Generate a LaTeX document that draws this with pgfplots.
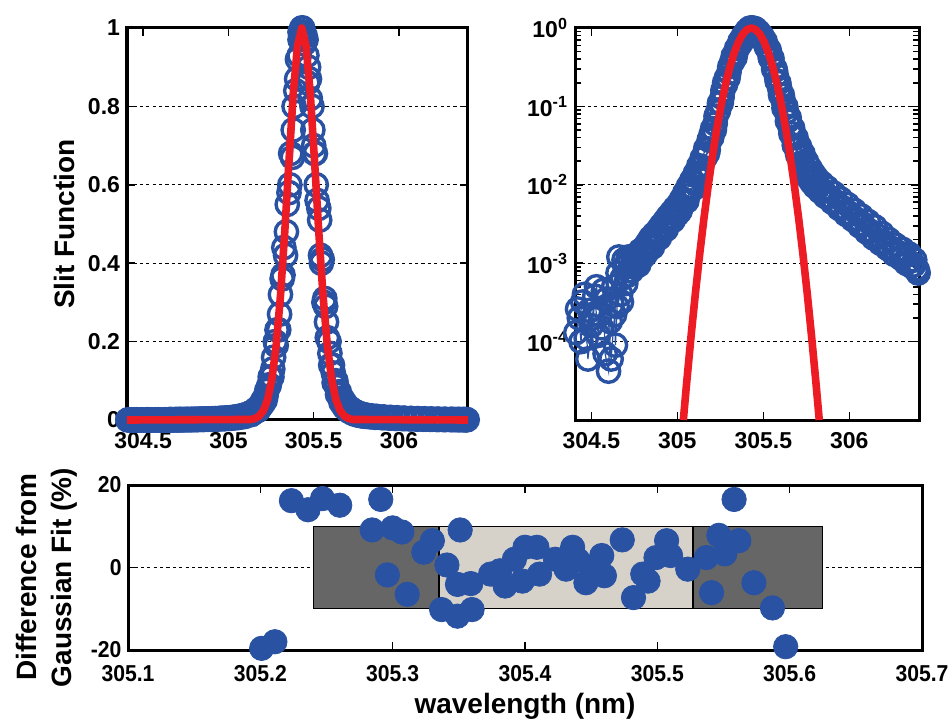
\documentclass[border=0pt]{standalone}
\usepackage{fontspec}
\setmainfont{Liberation Sans}
\usepackage{pgfplots}
\usepackage{pgfplotstable}
\pgfplotsset{compat=1.18}
\definecolor{dblue}{RGB}{42,82,163}
\definecolor{fred}{RGB}{237,28,36}
\definecolor{dgray}{RGB}{102,102,102}
\definecolor{lgray}{RGB}{214,210,202}

\pgfplotstableread{
x y
304.41 1.3e-4
304.43 2.0e-4
304.45 3.2e-4
304.47 1.1e-4
304.49 2.5e-4
304.50 1.6e-4
304.52 3.8e-4
304.54 1.2e-4
304.55 2.2e-4
304.57 4.5e-4
304.58 7.0e-5
304.60 4.2e-5
304.61 1.8e-4
304.62 3.0e-4
304.63 5.0e-4
304.64 9.0e-5
304.65 2.8e-4
304.66 1.2e-3
304.67 4.0e-4
304.68 6.5e-4
304.69 1.1e-3
304.70 5.5e-4
304.71 7.0e-4
304.72 8.0e-4
304.74 9.0e-4
304.76 1.0e-3
304.78 1.1e-3
304.80 1.2e-3
304.82 1.4e-3
304.84 1.6e-3
304.86 1.8e-3
304.88 2.0e-3
304.90 2.3e-3
304.92 2.6e-3
304.94 3.0e-3
304.96 3.4e-3
304.98 3.8e-3
305.00 4.2e-3
305.02 5.0e-3
305.04 6.0e-3
305.06 7.2e-3
305.08 8.5e-3
305.10 1.05e-2
305.12 1.3e-2
305.14 1.7e-2
305.16 2.2e-2
305.18 2.8e-2
305.20 4.0e-2
305.22 6.0e-2
305.24 9.0e-2
305.26 0.13
305.28 0.19
305.30 0.27
305.32 0.37
305.34 0.48
305.36 0.60
305.38 0.74
305.40 0.87
305.42 0.97
305.43 1.0
305.44 0.99
305.46 0.93
305.48 0.82
305.50 0.70
305.52 0.56
305.54 0.42
305.56 0.30
305.58 0.21
305.60 0.14
305.62 0.095
305.64 0.065
305.66 0.045
305.68 0.032
305.70 0.024
305.72 0.019
305.74 0.015
305.76 0.0125
305.78 0.0108
305.80 0.0095
305.83 0.0082
305.86 0.0071
305.90 0.0060
305.94 0.0050
305.98 0.0042
306.02 0.0036
306.06 0.0030
306.10 0.0025
306.14 0.0021
306.18 0.0018
306.22 0.00155
306.26 0.0013
306.30 0.00115
306.33 0.0010
306.36 0.00092
306.39 0.00085
306.40 0.00075
}\scanA

\pgfplotstableread{
x y
304.42 2.6e-4
304.44 1.0e-4
304.46 4.0e-4
304.48 6.0e-5
304.51 2.0e-4
304.53 5.0e-4
304.56 1.5e-4
304.59 3.5e-4
304.615 6.0e-5
304.635 2.2e-4
304.655 7.5e-4
304.675 3.2e-4
304.695 9.0e-4
304.715 1.2e-3
304.735 8.0e-4
304.755 1.2e-3
304.775 9.5e-4
304.795 1.4e-3
304.815 1.3e-3
304.835 1.9e-3
304.855 1.6e-3
304.875 2.3e-3
304.895 2.1e-3
304.915 2.9e-3
304.935 2.7e-3
304.955 3.8e-3
304.975 3.5e-3
304.995 5.0e-3
305.015 4.6e-3
305.035 6.5e-3
305.055 6.2e-3
305.075 9.0e-3
305.095 9.0e-3
305.115 1.4e-2
305.135 1.4e-2
305.155 2.3e-2
305.175 2.5e-2
305.195 4.3e-2
305.215 5.0e-2
305.235 8.5e-2
305.255 0.11
305.275 0.20
305.295 0.23
305.315 0.36
305.335 0.42
305.355 0.58
305.375 0.67
305.395 0.84
305.415 0.93
305.425 0.98
305.435 1.0
305.445 0.96
305.455 0.97
305.465 0.86
305.475 0.87
305.495 0.74
305.505 0.68
305.515 0.60
305.535 0.51
305.545 0.40
305.565 0.31
305.575 0.25
305.595 0.17
305.615 0.12
305.635 0.085
305.655 0.055
305.675 0.040
305.695 0.028
305.715 0.023
305.735 0.017
305.755 0.0145
305.775 0.0120
305.795 0.0108
305.815 0.0095
305.845 0.0085
305.875 0.0072
305.915 0.0062
305.955 0.0052
305.995 0.0044
306.035 0.0037
306.075 0.0032
306.115 0.0026
306.155 0.0023
306.195 0.0019
306.235 0.0016
306.275 0.0014
306.315 0.00125
306.345 0.00105
306.375 0.00095
306.395 0.00082
}\scanB

\pgfplotstableread{
x y
304.705 9.5e-4
304.725 1.1e-3
304.745 1.15e-3
304.765 1.3e-3
304.785 1.45e-3
304.805 1.55e-3
304.825 1.8e-3
304.845 2.1e-3
304.865 2.35e-3
304.885 2.6e-3
304.905 3.0e-3
304.925 3.4e-3
304.945 3.9e-3
304.965 4.4e-3
304.985 5.0e-3
305.005 5.6e-3
305.025 6.6e-3
305.045 8.0e-3
305.065 9.6e-3
305.085 1.15e-2
305.105 1.4e-2
305.125 1.75e-2
305.145 2.2e-2
305.165 2.9e-2
305.185 3.7e-2
305.205 5.2e-2
305.225 7.5e-2
305.245 0.11
305.265 0.16
305.285 0.23
305.305 0.32
305.325 0.44
305.345 0.55
305.365 0.68
305.385 0.80
305.405 0.92
305.42 0.99
305.45 0.98
305.47 0.90
305.49 0.80
305.51 0.68
305.53 0.54
305.55 0.41
305.57 0.29
305.59 0.20
305.61 0.14
305.63 0.10
305.65 0.072
305.67 0.053
305.69 0.040
305.71 0.031
305.73 0.025
305.75 0.020
305.77 0.0165
305.79 0.0140
305.81 0.0122
305.84 0.0105
305.87 0.0092
305.91 0.0078
305.95 0.0066
305.99 0.0056
306.03 0.0047
306.07 0.0040
306.11 0.0034
306.15 0.0029
306.19 0.0024
306.23 0.0020
306.27 0.0017
306.31 0.0015
306.35 0.0013
306.38 0.0011
}\scanC

\pgfplotstableread{
x y
305.0349 1e-5
305.055 3.13e-5
305.08 1.19e-4
305.105 4.14e-4
305.13 1.311e-3
305.155 3.78e-3
305.18 9.96e-3
305.205 2.392e-2
305.23 5.235e-2
305.255 0.1045
305.28 0.1903
305.305 0.3159
305.33 0.4783
305.355 0.6605
305.38 0.832
305.405 0.955
305.43 1
305.455 0.955
305.48 0.832
305.505 0.6605
305.53 0.4783
305.555 0.3159
305.58 0.1903
305.605 0.1045
305.63 5.235e-2
305.655 2.392e-2
305.68 9.96e-3
305.705 3.78e-3
305.73 1.311e-3
305.755 4.14e-4
305.78 1.19e-4
305.805 3.13e-5
305.8251 1e-5
}\fitlog

\pgfplotstableread{
x y
304.405 0
305.13 1.311e-3
305.155 3.78e-3
305.18 9.96e-3
305.205 2.392e-2
305.23 5.235e-2
305.255 0.1045
305.28 0.1903
305.305 0.3159
305.33 0.4783
305.355 0.6605
305.38 0.832
305.405 0.955
305.43 1
305.455 0.955
305.48 0.832
305.505 0.6605
305.53 0.4783
305.555 0.3159
305.58 0.1903
305.605 0.1045
305.63 5.235e-2
305.655 2.392e-2
305.68 9.96e-3
305.705 3.78e-3
305.73 1.311e-3
306.405 0
}\fitlin

\pgfplotstableread{
x y
305.201 -19.6
305.211 -18.0
305.2235 16.2
305.236 14.0
305.247 16.7
305.260 15.1
305.2845 9.1
305.291 16.5
305.296 -1.8
305.300 9.6
305.307 8.6
305.311 -6.5
305.3235 3.7
305.330 6.5
305.337 -10.2
305.341 0.6
305.349 -11.8
305.349 -4.1
305.351 9.1
305.359 -3.9
305.360 -10.2
305.374 -1.6
305.381 -0.8
305.385 -4.5
305.392 2.0
305.398 -3.3
305.400 4.9
305.409 4.9
305.411 -1.6
305.423 2.0
305.431 -0.4
305.436 4.9
305.440 1.8
305.446 -3.7
305.452 0.0
305.458 2.9
305.460 -2.0
305.4735 6.7
305.482 -7.3
305.489 -1.6
305.493 -3.3
305.499 2.4
305.507 6.5
305.510 2.9
305.523 -0.4
305.537 2.4
305.541 -6.1
305.5465 7.8
305.551 3.3
305.558 16.5
305.5616 6.5
305.573 -3.7
305.587 -9.8
305.597 -19.2
}\diff

\pgfplotsset{
  every axis/.append style={
    scale only axis,
    clip=false,
    clip marker paths=true,
    axis line style={line width=1.5bp},
    tick style={black, line width=0.8bp},
    major tick length=4bp,
    tick align=inside,
    ticklabel style={font=\fontsize{11.5bp}{13bp}\selectfont\bfseries},
    label style={font=\fontsize{14bp}{17.5bp}\selectfont\bfseries},
    /pgf/number format/assume math mode=true,
    ymajorgrids,
    major grid style={black, dash pattern=on 1.6bp off 1.6bp, line width=0.6bp},
  },
  meas/.style={dblue, line width=0.6bp, mark=o, mark size=5.6bp,
    mark options={line width=1.7bp, solid}},
  fit/.style={fred, line width=3.8bp, line join=round},
}

\begin{document}
\begin{tikzpicture}
\useasboundingbox (0,0) rectangle (475.5bp,361bp);

\begin{axis}[at={(63.5bp,151bp)}, anchor=south west,
  width=170.5bp, height=196bp,
  xmin=304.405, xmax=306.405, ymin=0, ymax=1,
  xtick={304.5,305,305.5,306}, xticklabels={304.5,305,305.5,306},
  xticklabel style={yshift=-2.5bp},
  ytick={0,0.2,0.4,0.6,0.8,1}, yticklabels={0,0.2,0.4,0.6,0.8,1},
  ylabel={Slit Function}]
\addplot[meas] table {\scanA};
\addplot[meas] table {\scanB};
\addplot[meas] table {\scanC};
\addplot[fit] table {\fitlin};
\end{axis}

\begin{axis}[at={(287.5bp,151bp)}, anchor=south west,
  width=172bp, height=196bp, ymode=log,
  xmin=304.405, xmax=306.405, ymin=1e-5, ymax=1,
  xtick={304.5,305,305.5,306}, xticklabels={304.5,305,305.5,306},
  xticklabel style={yshift=-2.5bp},
  ytick={1e-4,1e-3,1e-2,1e-1,1},
  yticklabels={10\textsuperscript{-4},10\textsuperscript{-3},10\textsuperscript{-2},10\textsuperscript{-1},10\textsuperscript{0}},
  minor ytick={}]
\addplot[meas] table {\scanA};
\addplot[meas] table {\scanB};
\addplot[meas] table {\scanC};
\addplot[fit] table {\fitlog};
\end{axis}

\begin{axis}[at={(64bp,36bp)}, anchor=south west,
  width=397bp, height=82.5bp,
  xmin=305.1, xmax=305.7, ymin=-20, ymax=20,
  xtick={305.1,305.2,305.3,305.4,305.5,305.6,305.7},
  xticklabels={305.1,305.2,305.3,305.4,305.5,305.6,305.7},
  xticklabel style={yshift=-4bp, xscale=0.92},
  yticklabel style={xscale=0.92},
  ytick={-20,0,20}, yticklabels={-20,0,20},
  xlabel={wavelength (nm)},
  xlabel style={yshift=1bp},
  ylabel={Difference from\\Gaussian Fit (\%)},
  ylabel style={align=center, xshift=-5bp}]
\addplot[draw=black, line width=0.6bp, fill=dgray] coordinates {(305.24,-10) (305.625,-10) (305.625,10) (305.24,10)} -- cycle;
\addplot[draw=black, line width=0.6bp, fill=lgray] coordinates {(305.335,-10) (305.527,-10) (305.527,10) (305.335,10)} -- cycle;
\addplot[only marks, mark=*, mark size=6.1bp, mark options={draw=dblue, fill=dblue}] table {\diff};
\end{axis}
\end{tikzpicture}
\end{document}
